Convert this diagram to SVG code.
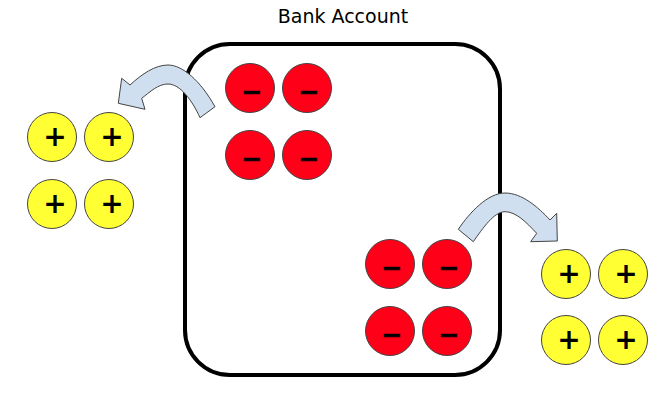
<svg xmlns="http://www.w3.org/2000/svg" width="668" height="403" viewBox="0 0 668 403">
<style>
.box{fill:none;stroke:#000;stroke-width:4}
.neg{fill:#ff0019;stroke:#444;stroke-width:1}
.pos{fill:#ffff33;stroke:#444;stroke-width:1}
.sign{font-family:"DejaVu Sans",sans-serif;font-weight:bold;font-size:28px;text-anchor:middle;fill:#000}
.minus{font-family:"DejaVu Sans",sans-serif;font-weight:bold;font-size:25px;text-anchor:middle;fill:#000;stroke:#000;stroke-width:0.6}
.arrow{fill:#cfdff0;stroke:#444;stroke-width:1;stroke-linejoin:miter}
.title{font-family:"DejaVu Sans",sans-serif;font-size:19px;text-anchor:middle;fill:#000}
</style>
<text class="title" x="343" y="23">Bank Account</text>
<g id="account"><rect class="box" x="185" y="44" width="315" height="331" rx="45" ry="45"/></g>
<g id="neg-top">
<circle class="neg" cx="250" cy="88" r="24.5"/><text class="minus" x="252" y="100">−</text>
<circle class="neg" cx="307" cy="88" r="24.5"/><text class="minus" x="309" y="100">−</text>
<circle class="neg" cx="250" cy="155" r="24.5"/><text class="minus" x="252" y="167">−</text>
<circle class="neg" cx="307" cy="155" r="24.5"/><text class="minus" x="309" y="167">−</text>
</g>
<g id="neg-bottom">
<circle class="neg" cx="390" cy="264" r="24.5"/><text class="minus" x="392" y="276">−</text>
<circle class="neg" cx="447" cy="264" r="24.5"/><text class="minus" x="449" y="276">−</text>
<circle class="neg" cx="390" cy="331" r="24.5"/><text class="minus" x="392" y="343">−</text>
<circle class="neg" cx="447" cy="331" r="24.5"/><text class="minus" x="449" y="343">−</text>
</g>
<g id="pos-left">
<circle class="pos" cx="52" cy="137" r="24.5"/><text class="sign" x="55" y="146">+</text>
<circle class="pos" cx="109" cy="137" r="24.5"/><text class="sign" x="112" y="146">+</text>
<circle class="pos" cx="52" cy="204" r="24.5"/><text class="sign" x="55" y="213">+</text>
<circle class="pos" cx="109" cy="204" r="24.5"/><text class="sign" x="112" y="213">+</text>
</g>
<g id="pos-right">
<circle class="pos" cx="566" cy="274" r="24.5"/><text class="sign" x="569" y="283">+</text>
<circle class="pos" cx="623" cy="274" r="24.5"/><text class="sign" x="626" y="283">+</text>
<circle class="pos" cx="566" cy="340" r="24.5"/><text class="sign" x="569" y="349">+</text>
<circle class="pos" cx="623" cy="340" r="24.5"/><text class="sign" x="626" y="349">+</text>
</g>
<g id="connectors">
<path class="arrow" d="M215,106.7 L200,117.7 C192,100 180,84 168,84 C158,84 150,92 141.7,98.3 L145,109.3 L118.3,103.3 L121.7,78.3 L130,85 C142,74 155,65 168,65 C182,65 200,80 215,106.7 Z"/>
<path class="arrow" d="M458.3,229.3 C470,212 488,193 505,193 C522,193 538,207 550,220 L556.7,213.3 L557.3,241 L530.7,241.7 L536.7,233.3 C526,222 516,211.7 505,211.7 C494,211.7 483,228 473.3,241.7 Z"/>
</g>
</svg>
